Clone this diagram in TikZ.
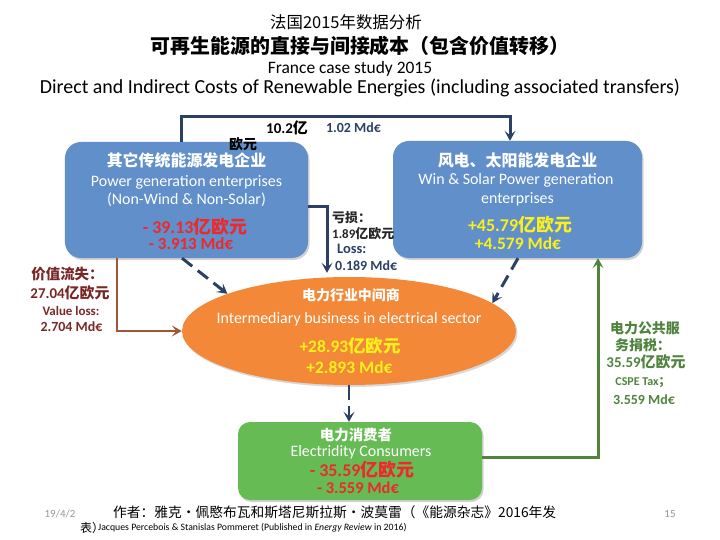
\documentclass[tikz,border=0pt]{standalone}
\usepackage{fontspec}
\setmainfont{Carlito}
\newfontfamily\cjk{Noto Sans CJK SC}
\usetikzlibrary{arrows.meta,shapes.geometric,shadows}
\definecolor{boxblue}{RGB}{96,143,202}
\definecolor{ellorange}{RGB}{243,136,56}
\definecolor{boxgreen}{RGB}{102,187,84}
\definecolor{navy}{RGB}{44,64,102}
\definecolor{valred}{RGB}{238,40,44}
\definecolor{valyellow}{RGB}{250,240,30}
\definecolor{brownline}{RGB}{158,88,56}
\definecolor{browntext}{RGB}{122,40,38}
\definecolor{greenline}{RGB}{80,132,62}
\definecolor{foot}{RGB}{150,150,150}
\newcommand\fsz[1]{\fontsize{#1}{#1}\selectfont}
\tikzset{
  txt/.style={inner sep=0pt, anchor=center},
  ltxt/.style={inner sep=0pt, anchor=west},
  rbox/.style={rounded corners=16bp, inner sep=0pt, drop shadow={shadow xshift=1.5bp, shadow yshift=-2bp, opacity=0.35}},
  tipnavy/.style={-{Stealth[length=10bp,width=11bp,inset=4.5bp]}},
  navyline/.style={draw=navy, line width=3bp},
  dashline/.style={draw=navy, line width=3bp, dash pattern=on 13bp off 7bp},
}
\begin{document}
\begin{tikzpicture}[x=1bp,y=-1bp]
\useasboundingbox (0,0) rectangle (720,540);
\fill[white] (0,0) rectangle (720,540);

% titles
\node[txt] (t1) at (346,22) {\fsz{16.5}\cjk 法国2015年数据分析};
\node[txt] (t2) at (360,46) {\fsz{20}\cjk\bfseries 可再生能源的直接与间接成本（包含价值转移）};
\node[txt] (t3) at (350,69) {\fsz{17.5}France case study 2015};
\node[txt] (t4) at (360,88) {\fsz{20}Direct and Indirect Costs of Renewable Energies (including associated transfers)};

% boxes
\node[rbox, fill=boxblue, minimum width=243bp, minimum height=116bp] (L) at (186.5,200) {};
\node[rbox, fill=boxblue, minimum width=249bp, minimum height=117bp] (R) at (517.5,199.5) {};
\node[ellipse, fill=ellorange, inner sep=0pt, minimum width=334bp, minimum height=108bp, drop shadow={shadow xshift=1.5bp, shadow yshift=-2bp, opacity=0.3}] (E) at (349,331) {};
\node[rbox, rounded corners=12bp, fill=boxgreen, minimum width=244bp, minimum height=78bp] (G) at (360,461) {};

% left box text
\node[txt, text=white] (Lt1) at (186.5,160) {\fsz{16}\cjk\bfseries 其它传统能源发电企业};
\node[txt, text=white] (Lt2) at (186.5,182) {\fsz{16}Power generation enterprises};
\node[txt, text=white] (Lt3) at (186.5,200) {\fsz{16}(Non-Wind \& Non-Solar)};
\node[txt, text=valred] (Lt4) at (195,227) {\fsz{18}\bfseries - 39.13{\cjk 亿欧元}};
\node[txt, text=valred] (Lt5) at (191,244) {\fsz{17}\bfseries - 3.913 Md€};

% right box text
\node[txt, text=white] (Rt1) at (517.5,160) {\fsz{16}\cjk\bfseries 风电、太阳能发电企业};
\node[txt, text=white] (Rt2) at (516,180) {\fsz{16}Win \& Solar Power generation};
\node[txt, text=white] (Rt3) at (517.5,199) {\fsz{16}enterprises};
\node[txt, text=valyellow] (Rt4) at (520,225) {\fsz{18}\bfseries +45.79{\cjk 亿欧元}};
\node[txt, text=valyellow] (Rt5) at (518,243) {\fsz{17.5}\bfseries +4.579 Md€};

% ellipse text
\node[txt, text=white] (Et1) at (351,295) {\fsz{14}\cjk\bfseries 电力行业中间商};
\node[txt, text=white] (Et2) at (349,319) {\fsz{16}Intermediary business in electrical sector};
\node[txt, text=valyellow] (Et3) at (350,346) {\fsz{17.5}\bfseries +28.93{\cjk 亿欧元}};
\node[txt, text=valyellow] (Et4) at (349.5,367) {\fsz{17.5}\bfseries +2.893 Md€};

% green box text
\node[txt, text=white] (Gt1) at (356,435) {\fsz{14.5}\cjk\bfseries 电力消费者};
\node[txt, text=white] (Gt2) at (361,452) {\fsz{16}Electridity Consumers};
\node[txt, text=valred] (Gt3) at (362,470) {\fsz{18}\bfseries - 35.59{\cjk 亿欧元}};
\node[txt, text=valred] (Gt4) at (358,488) {\fsz{16.5}\bfseries - 3.559 Md€};

% connectors
\draw[navyline, tipnavy] ([xshift=-5.5bp]L.north) -- ++(0,-25) -| ([xshift=-7.5bp]R.north);
\draw[navyline, tipnavy] ([yshift=-7bp]L.east) -| ([xshift=-22bp,yshift=4bp]E.north);
\draw[dashline, tipnavy] ([xshift=-4.5bp]L.south) -- (E.163);
\draw[dashline, tipnavy] ([xshift=0.5bp]R.south) -- (E.11);
\draw[draw=navy, line width=2.5bp, dash pattern=on 15bp off 6bp, tipnavy] (E.south) -- (E.south |- G.north);
\draw[draw=brownline, line width=2.5bp, -{Stealth[length=10bp,width=11bp,inset=4.5bp]}] ([xshift=-69.5bp]L.south) |- (E.west);
\draw[draw=greenline, line width=3bp, -{Stealth[length=10bp,width=11bp,inset=4.5bp]}] ([yshift=4bp]G.east) -| ([xshift=80.5bp]R.south);

% top labels
\node[txt] (topa) at (287,128) {\fsz{15}\bfseries 10.2{\cjk 亿}};
\node[txt, text=navy] (topb) at (353.5,128) {\fsz{14}\bfseries 1.02 Md€};
\node[txt] (topc) at (243,144) {\fsz{14}\cjk\bfseries 欧元};

% loss labels
\node[ltxt, text=black!85] (la) at (332,218) {\fsz{13}\cjk\bfseries 亏损：};
\node[ltxt, text=black!85] (lb) at (332,234) {\fsz{13}\bfseries 1.89{\cjk 亿欧元}};
\node[ltxt, text=navy] (lc) at (337,249) {\fsz{14.5}\bfseries Loss:};
\node[ltxt, text=navy] (ld) at (335,266) {\fsz{14}\bfseries 0.189 Md€};

% brown labels
\node[txt, text=browntext] (ba) at (67.5,274) {\fsz{14.5}\cjk\bfseries 价值流失：};
\node[txt, text=browntext] (bb) at (70,293) {\fsz{15}\bfseries 27.04{\cjk 亿欧元}};
\node[txt, text=browntext] (bc) at (71,311) {\fsz{13}\bfseries Value loss:};
\node[txt, text=browntext] (bd) at (71.5,327) {\fsz{14}\bfseries 2.704 Md€};

% green labels
\node[txt, text=greenline] (ga) at (645,328) {\fsz{14}\cjk\bfseries 电力公共服};
\node[txt, text=greenline] (gb) at (643,345) {\fsz{14}\cjk\bfseries 务捐税：};
\node[txt, text=greenline] (gc) at (646,362) {\fsz{15}\bfseries 35.59{\cjk 亿欧元}};
\node[txt, text=greenline] (gd) at (643,383) {\fsz{12}\bfseries CSPE Tax{\cjk ；}};
\node[txt, text=greenline] (ge) at (644,400) {\fsz{14}\bfseries 3.559 Md€};

% footer
\node[txt, text=foot] (fdate) at (60,514) {\fsz{11}19/4/2};
\node[txt, text=foot] (fpage) at (670,514) {\fsz{11}15};
\node[ltxt] (f1) at (113,512) {\fsz{13.8}\cjk 作者：雅克·佩愍布瓦和斯塔尼斯拉斯·波莫雷（《能源杂志》2016年发};
\node[ltxt] (f2a) at (80,528) {\fsz{12}\cjk 表）};
\node[ltxt] (f2b) at (98,528) {\fsz{9.8}Jacques Percebois \& Stanislas Pommeret (Published in \textit{Energy Review} in 2016)};
\end{tikzpicture}
\end{document}
